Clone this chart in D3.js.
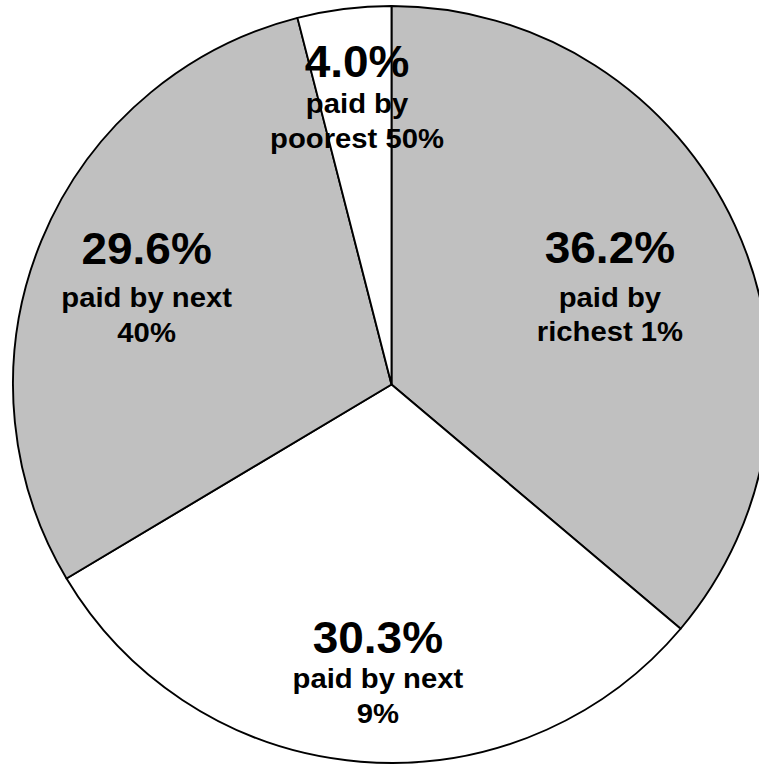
<!DOCTYPE html>
<html>
<head>
<meta charset="utf-8">
<script src="https://cdn.jsdelivr.net/npm/d3@7"></script>
<style>
  html, body { margin: 0; padding: 0; background: #ffffff; overflow: hidden; }
  svg { display: block; }
  text { font-family: "Liberation Sans", Arial, Helvetica, sans-serif; font-weight: bold; fill: #000; }
</style>
</head>
<body>
<svg id="chart" width="759" height="765"></svg>
<script>
// Share of federal income taxes paid, by income group (clockwise from 12 o'clock)
const shares = [36.2, 30.3, 29.6, 4.0];
const shareLabels = ["36.2%", "30.3%", "29.6%", "4.0%"];
const groupLines = [
  ["paid by", "richest 1%"],
  ["paid by next", "9%"],
  ["paid by next", "40%"],
  ["paid by", "poorest 50%"]
];
const sliceFills = ["#c0c0c0", "#ffffff", "#c0c0c0", "#ffffff"];

// Label layout: offset of each label's headline from the pie centre (fraction of radius),
// plus the gap between the headline and its first caption line.
const labelPlacement = [
  { dx: 0.577, dy: -0.320, gap: 43.5 },
  { dx: -0.036, dy: 0.709, gap: 35.5 },
  { dx: -0.647, dy: -0.318, gap: 43 },
  { dx: -0.091, dy: -0.813, gap: 36.5 }
];

const width = 759, height = 765;
const cx = 391.5, cy = 384.5, radius = 378.5;

const svg = d3.select("#chart");
const g = svg.append("g").attr("transform", `translate(${cx},${cy})`);

const pie = d3.pie().sort(null).value(d => d);
const arc = d3.arc().innerRadius(0).outerRadius(radius);
const arcs = pie(shares);

g.selectAll("path.slice")
  .data(arcs)
  .join("path")
  .attr("class", "slice")
  .attr("d", arc)
  .attr("fill", (d, i) => sliceFills[i])
  .attr("stroke", "#000")
  .attr("stroke-width", 1.9)
  .attr("stroke-linejoin", "round");

const labels = g.selectAll("g.label")
  .data(arcs)
  .join("g")
  .attr("class", "label")
  .attr("transform", (d, i) => {
    const p = labelPlacement[i];
    return `translate(${p.dx * radius},${p.dy * radius}) scale(1.045,1)`;
  });

labels.append("text")
  .attr("text-anchor", "middle")
  .attr("font-size", 44)
  .text((d, i) => shareLabels[i]);

labels.each(function(d, i) {
  const sel = d3.select(this);
  const p = labelPlacement[i];
  groupLines[i].forEach((line, k) => {
    sel.append("text")
      .attr("text-anchor", "middle")
      .attr("font-size", 28)
      .attr("y", p.gap + k * 34.5)
      .text(line);
  });
});
</script>
</body>
</html>
